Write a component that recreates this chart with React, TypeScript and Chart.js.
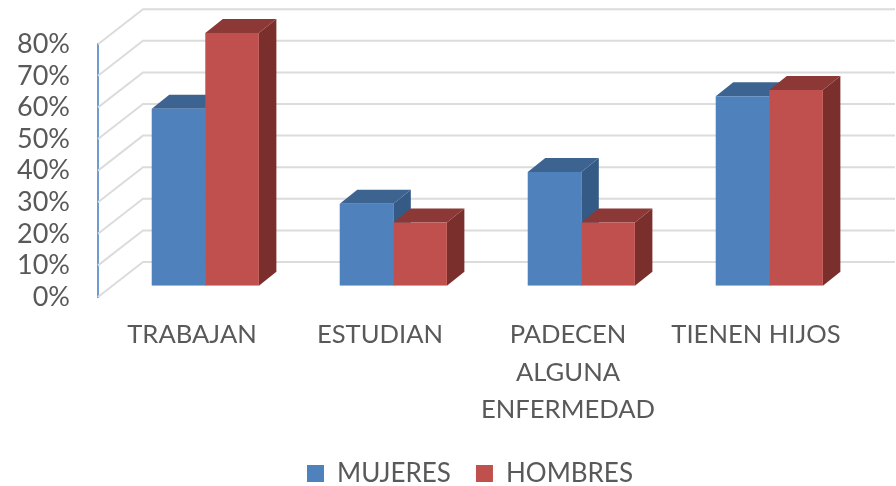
import React, { useEffect, useRef } from "react";
import { Chart, registerables } from "chart.js";

Chart.register(...registerables);

const categories = ["TRABAJAN", "ESTUDIAN", ["PADECEN", "ALGUNA", "ENFERMEDAD"], "TIENEN HIJOS"];
const mujeres = [56, 26, 36, 60];
const hombres = [80, 20, 20, 62];
const seriesNames = ["MUJERES", "HOMBRES"];
const faceColors = ["#4F81BD", "#C0504D"];
const topColors = ["#3D6491", "#8C3836"];
const sideColors = ["#355A85", "#7A2F2D"];

const FONT = "Lato";
const WALL_DX = 45;
const WALL_DY = -35;
const BAR_OFF_X = 13.3;
const BAR_OFF_Y = -11.2;
const BAR_DX = 17.5;
const BAR_DY = -14;
const LEGEND_SHIFT_X = 45;
const LEGEND_SHIFT_Y = 10.5;

const poly = (ctx: CanvasRenderingContext2D, pts: number[][], color: string) => {
  ctx.beginPath();
  pts.forEach((p, i) => (i ? ctx.lineTo(p[0], p[1]) : ctx.moveTo(p[0], p[1])));
  ctx.closePath();
  ctx.fillStyle = color;
  ctx.fill();
};

const walls = {
  id: "walls",
  afterLayout(chart: any) {
    const l = chart.legend;
    l.left += LEGEND_SHIFT_X;
    l.right += LEGEND_SHIFT_X;
    l.top += LEGEND_SHIFT_Y;
    l.bottom += LEGEND_SHIFT_Y;
  },
  beforeDatasetsDraw(chart: any) {
    const { ctx, chartArea, scales } = chart;
    ctx.save();
    ctx.strokeStyle = "#DCDCDC";
    ctx.lineWidth = 2;
    (scales.y.ticks as any[]).forEach((t) => {
      const y = scales.y.getPixelForValue(t.value);
      ctx.beginPath();
      ctx.moveTo(chartArea.left, y);
      ctx.lineTo(chartArea.left + WALL_DX, y + WALL_DY);
      ctx.lineTo(chartArea.right + WALL_DX, y + WALL_DY);
      ctx.stroke();
    });
    ctx.restore();
    ctx.save();
    ctx.translate(BAR_OFF_X, BAR_OFF_Y);
    chart.data.datasets.forEach((_: any, d: number) => {
      chart.getDatasetMeta(d).data.forEach((bar: any) => {
        const { x, y, base, width } = bar.getProps(["x", "y", "base", "width"], true);
        const l = x - width / 2;
        const r = x + width / 2;
        poly(ctx, [[r, y], [r + BAR_DX, y + BAR_DY], [r + BAR_DX, base + BAR_DY], [r, base]], sideColors[d]);
        poly(ctx, [[l, y], [l + BAR_DX, y + BAR_DY], [r + BAR_DX, y + BAR_DY], [r, y]], topColors[d]);
      });
    });
  },
  afterDatasetsDraw(chart: any) {
    chart.ctx.restore();
  },
};

export default function App() {
  const ref = useRef<HTMLCanvasElement>(null);
  useEffect(() => {
    const chart = new Chart(ref.current!, {
      type: "bar",
      data: {
        labels: categories as any,
        datasets: [
          { label: seriesNames[0], data: mujeres, backgroundColor: faceColors[0] },
          { label: seriesNames[1], data: hombres, backgroundColor: faceColors[1] },
        ],
      },
      plugins: [walls],
      options: {
        responsive: false,
        animation: false,
        layout: { padding: { top: 43, right: 46, left: 0, bottom: 0 } },
        datasets: { bar: { categoryPercentage: 0.57, barPercentage: 1 } },
        plugins: {
          tooltip: { enabled: false },
          legend: {
            position: "bottom",
            labels: {
              font: { family: FONT, size: 26 },
              color: "#595959",
              boxWidth: 17,
              boxHeight: 17,
              padding: 25,
            },
          },
        },
        scales: {
          x: {
            grid: { display: false, drawTicks: false },
            border: { display: false },
            ticks: {
              font: { family: FONT, size: 25.6, lineHeight: 1.465 },
              color: "#595959",
              padding: 19,
              maxRotation: 0,
              minRotation: 0,
              autoSkip: false,
            },
            afterFit(s: any) {
              s.height = 128;
            },
          },
          y: {
            min: 0,
            max: 80,
            grid: { display: false, drawTicks: false },
            border: { display: true, color: "#6E9BD1", width: 2 },
            ticks: {
              stepSize: 10,
              autoSkip: false,
              font: { family: FONT, size: 27 },
              color: "#595959",
              padding: 28,
              callback: (v: any) => v + "%",
            },
            afterFit(s: any) {
              s.width = 98;
            },
          },
        },
      } as any,
    });
    return () => chart.destroy();
  }, []);
  return (
    <canvas
      ref={ref}
      width={896}
      height={486}
      style={{ position: "fixed", left: 0, top: 0, display: "block", background: "#fff" }}
    />
  );
}
